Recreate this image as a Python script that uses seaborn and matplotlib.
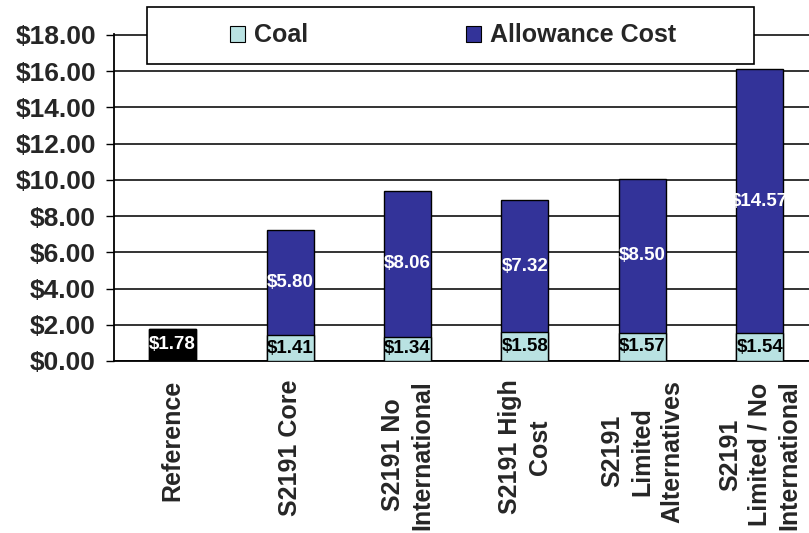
import matplotlib
matplotlib.use("Agg")
import matplotlib.pyplot as plt
from matplotlib.patches import Rectangle, Patch
from matplotlib.ticker import FixedLocator
import seaborn as sns
import pandas as pd

categories = ["Reference", "S2191 Core", "S2191 No\nInternational", "S2191 High\nCost",
              "S2191\nLimited\nAlternatives", "S2191\nLimited / No\nInternational"]
coal = [1.78, 1.41, 1.34, 1.58, 1.57, 1.54]
allowance = [0.0, 5.80, 8.06, 7.32, 8.50, 14.57]
yticks = [0, 2, 4, 6, 8, 10, 12, 14, 16, 18]

COAL_C = "#B9E2E2"
ALLOW_C = "#333399"
REF_C = "#000000"

sns.set_style("white")
plt.rcParams["font.family"] = ["Liberation Sans", "DejaVu Sans"]
plt.rcParams["font.weight"] = "bold"

df = pd.DataFrame({"category": categories, "coal": coal, "allowance": allowance})
df["total"] = df["coal"] + df["allowance"]

fig = plt.figure(figsize=(8.09, 5.33), dpi=100)
ax = fig.add_axes([114 / 809, 172 / 533, 1 - 114 / 809, 327 / 533])

sns.barplot(data=df, x="category", y="total", color=ALLOW_C, width=0.4,
            edgecolor="black", linewidth=1.0, saturation=1, ax=ax, zorder=3)
coal_pal = [REF_C] + [COAL_C] * (len(categories) - 1)
sns.barplot(data=df, x="category", y="coal", hue="category", palette=coal_pal,
            legend=False, width=0.4, edgecolor="black", linewidth=1.0,
            saturation=1, dodge=False, ax=ax, zorder=4)

# value labels
for i, (c, a) in enumerate(zip(coal, allowance)):
    ax.text(i, c / 2, f"${c:.2f}", ha="center", va="center", fontsize=13.5,
            fontweight="bold", color="white" if i == 0 else "black", zorder=6)
    if a > 0:
        ax.text(i, c + a / 2, f"${a:.2f}", ha="center", va="center", fontsize=13.5,
                fontweight="bold", color="white", zorder=6)

ax.set_xlim(-0.5, 5.42)
ax.set_ylim(0, 18.05)
ax.set_yticks(yticks)
ax.set_yticklabels([f"${v:.2f}" for v in yticks], fontsize=19, fontweight="bold")
ax.set_xticks(range(len(categories)))
ax.set_xticklabels(categories, rotation=90, ha="center", va="top",
                   multialignment="center", linespacing=1.3,
                   fontsize=18, fontweight="bold")
ax.xaxis.set_minor_locator(FixedLocator([i - 0.5 for i in range(len(categories) + 1)]))
ax.tick_params(axis="x", which="major", length=0, pad=13.5)
ax.tick_params(axis="x", which="minor", length=5.5, width=1.0, color="black", direction="out")
ax.tick_params(axis="y", which="major", length=6, width=1.0, color="black",
               direction="out", pad=7, left=True)
ax.set_xlabel("")
ax.set_ylabel("")

ax.grid(axis="y", color="#111111", linewidth=1.2, zorder=0)
ax.set_axisbelow(True)
for s in ["top", "right"]:
    ax.spines[s].set_visible(False)
for s in ["left", "bottom"]:
    ax.spines[s].set_color("black")
    ax.spines[s].set_linewidth(1.3)

# legend box
rect = Rectangle((147 / 809, 1 - 64 / 533), (754 - 147) / 809, 57 / 533,
                 transform=fig.transFigure, facecolor="white", edgecolor="black",
                 linewidth=1.2, zorder=10)
fig.add_artist(rect)
handles = [Patch(facecolor=COAL_C, edgecolor="black", linewidth=0.8, label="Coal"),
           Patch(facecolor=ALLOW_C, edgecolor="black", linewidth=0.8, label="Allowance Cost")]
leg = fig.legend(handles=handles, loc="center", bbox_to_anchor=(453 / 809, 1 - 35.5 / 533),
                 ncol=2, frameon=False, fontsize=18, handlelength=0.6, handleheight=0.6,
                 handletextpad=0.35, columnspacing=6.3, borderpad=0)
leg.set_zorder(11)
for t in leg.get_texts():
    t.set_fontweight("bold")

fig.savefig("out.png", dpi=100)
